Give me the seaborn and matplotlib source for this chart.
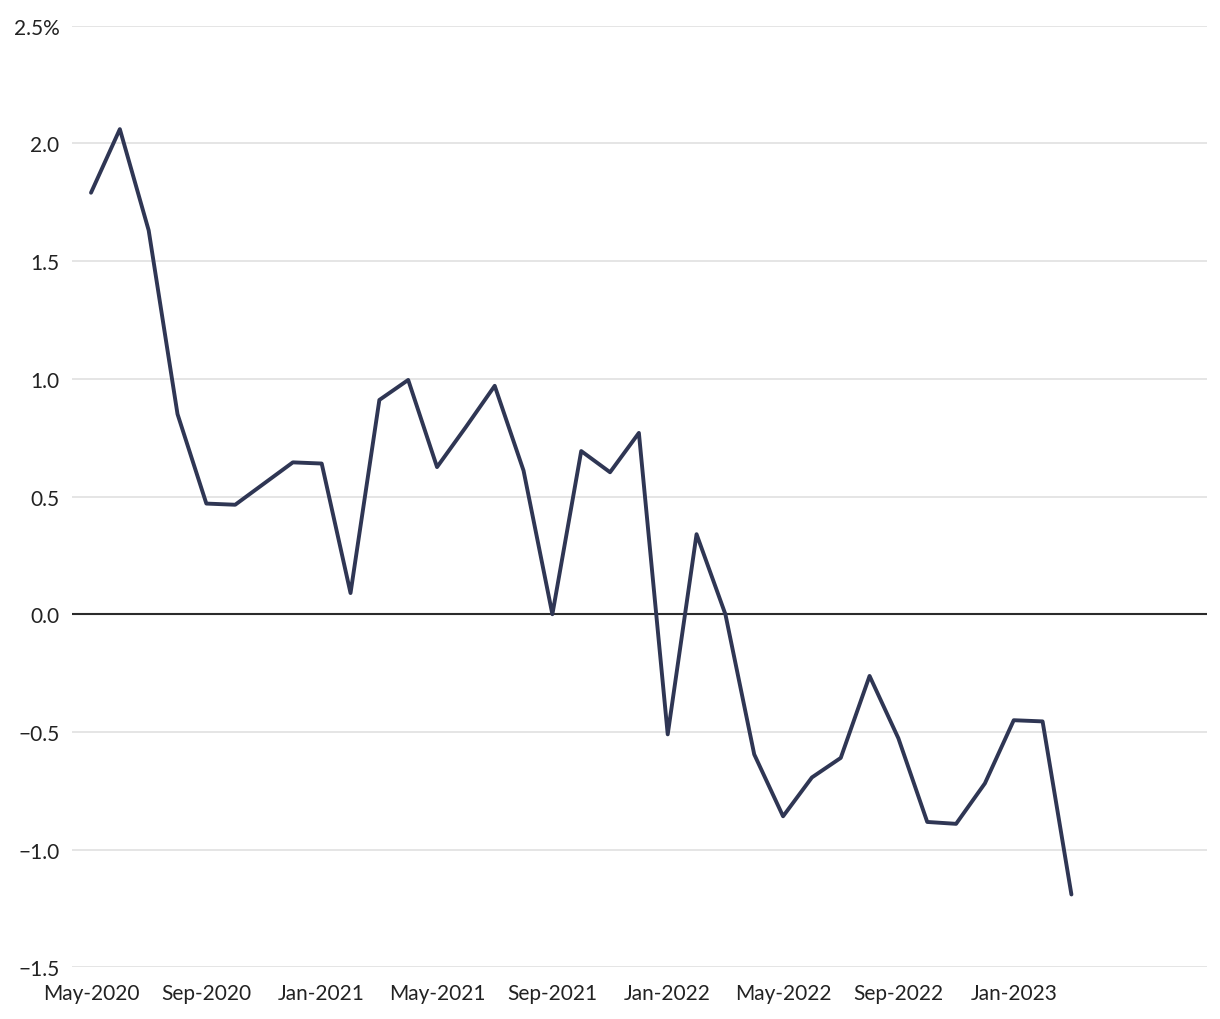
import matplotlib
matplotlib.use('Agg')
from matplotlib import pyplot as plt
import pandas as pd
import numpy as np
import seaborn as sns

sns.set_style('white')
plt.rcParams['font.family'] = ['Lato', 'DejaVu Sans']

# monthly values, May-2020 .. Mar-2023 (percent)
months = pd.date_range('2020-05-01', '2023-03-01', freq='MS')
values = [1.79, 2.06, 1.63, 0.85, 0.47, 0.465, 0.555, 0.645, 0.64, 0.09,
          0.91, 0.995, 0.625, 0.795, 0.97, 0.61, 0.0, 0.693, 0.603, 0.77,
          -0.51, 0.34, 0.0, -0.595, -0.858, -0.693, -0.61, -0.262, -0.527,
          -0.882, -0.89, -0.718, -0.45, -0.455, -1.19]
yticks = [-1.5, -1.0, -0.5, 0.0, 0.5, 1.0, 1.5, 2.0, 2.5]
ytick_labels = ['\u22121.5', '\u22121.0', '\u22120.5', '0.0', '0.5', '1.0', '1.5', '2.0', '2.5%']

df = pd.DataFrame({'month': months, 'value': values})
df['pos'] = np.arange(len(df))

fig = plt.figure(figsize=(12.2, 10.2), dpi=100)
ax = fig.add_axes([0.059, 0.0505, 0.9303, 0.9235])

for y in yticks:
    if y != 0:
        ax.axhline(y, color='#e3e3e3', lw=1.3, zorder=0)
ax.axhline(0, color='#2b2b2b', lw=1.5, zorder=1)

sns.lineplot(data=df, x='pos', y='value', ax=ax, color='#2f3654', lw=2.8,
             zorder=3)

ax.set_xlim(-0.66, 38.7)
ax.set_ylim(-1.5, 2.5)
ax.set_yticks(yticks)
ax.set_yticklabels(ytick_labels)
xt = df['pos'][::4]
ax.set_xticks(xt)
ax.set_xticklabels(df['month'][::4].dt.strftime('%b-%Y'))
ax.tick_params(axis='both', length=0, labelsize=15, colors='#222222')
ax.tick_params(axis='y', pad=9)
ax.tick_params(axis='x', pad=11)
ax.set_xlabel('')
ax.set_ylabel('')
sns.despine(ax=ax, left=True, bottom=True)

plt.savefig('out.png', dpi=100)
